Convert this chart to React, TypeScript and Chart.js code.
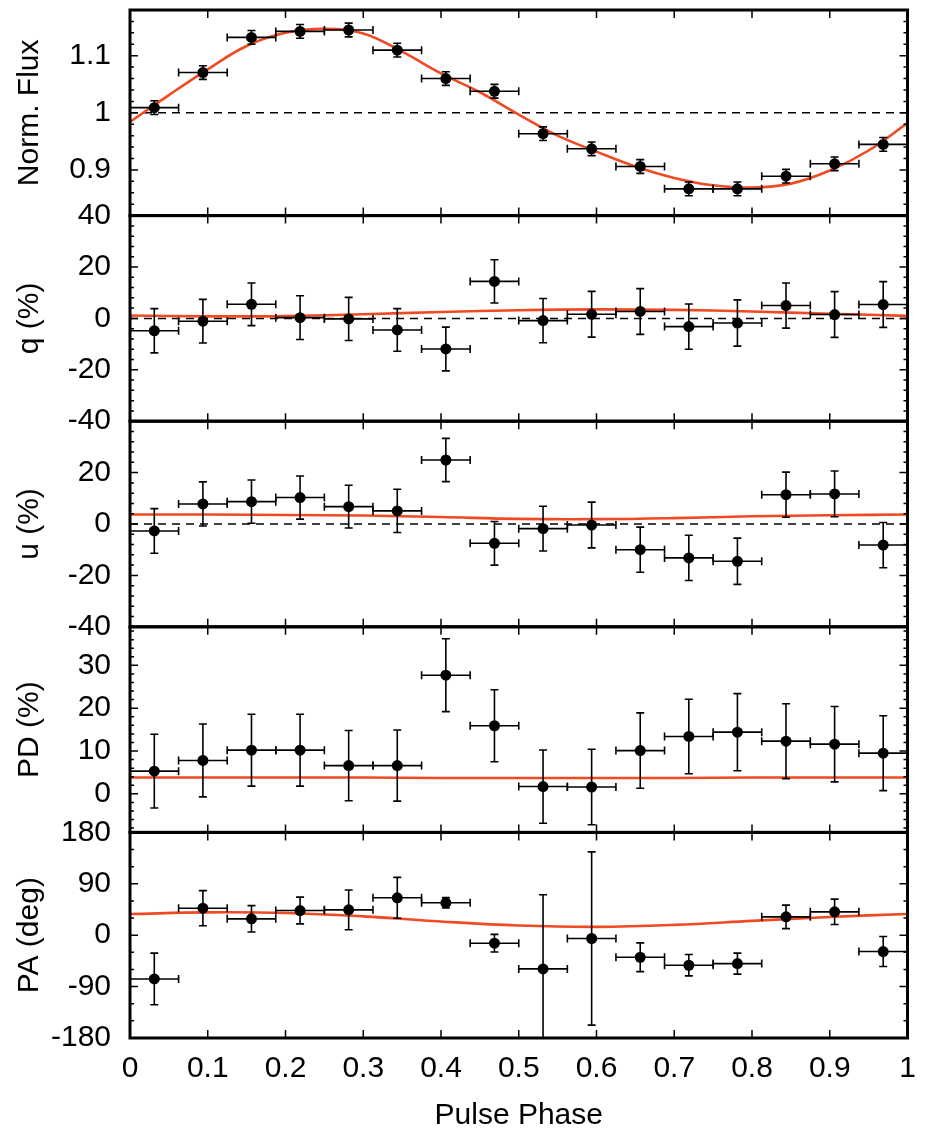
import React, { useEffect, useRef } from 'react';
import { Chart, registerables } from 'chart.js';

Chart.register(...registerables);

// ---------------- data ----------------
const phase = [0.03125, 0.09375, 0.15625, 0.21875, 0.28125, 0.34375, 0.40625, 0.46875,
  0.53125, 0.59375, 0.65625, 0.71875, 0.78125, 0.84375, 0.90625, 0.96875];
const phaseHalfWidth = 0.03125;

const flux = [1.009, 1.0705, 1.132, 1.1425, 1.145, 1.1097, 1.060, 1.0377,
  0.9634, 0.937, 0.906, 0.8668, 0.8668, 0.889, 0.9107, 0.9447];
const fluxErr = [0.012, 0.012, 0.012, 0.012, 0.012, 0.012, 0.012, 0.012,
  0.012, 0.012, 0.012, 0.012, 0.012, 0.012, 0.012, 0.012];

const qVal = [-4.8, -1.1, 5.5, 0.3, -0.2, -4.5, -11.9, 14.4, -0.85, 1.6, 2.7, -3.2, -1.8, 5.0, 1.5, 5.4];
const qErr = [8.6, 8.5, 8.3, 8.5, 8.4, 8.3, 8.5, 8.4, 8.6, 8.9, 8.9, 8.8, 9.0, 8.8, 8.9, 8.9];

const uVal = [-2.7, 7.8, 8.7, 10.3, 6.75, 5.1, 24.9, -7.5, -1.8, -0.4, -10.0, -13.2, -14.5, 11.4, 11.7, -8.2];
const uErr = [8.7, 8.6, 8.4, 8.4, 8.3, 8.4, 8.4, 8.5, 8.7, 8.9, 8.8, 8.8, 9.0, 8.8, 8.9, 8.8];

const pdVal = [5.3, 7.8, 10.2, 10.2, 6.6, 6.6, 27.7, 15.9, 1.7, 1.6, 10.1, 13.4, 14.4, 12.3, 11.6, 9.5];
const pdErr = [8.6, 8.5, 8.4, 8.4, 8.2, 8.3, 8.5, 8.4, 8.55, 8.8, 8.8, 8.7, 9.0, 8.75, 8.8, 8.75];

const paVal = [-76.6, 47.3, 28.6, 43.2, 44.4, 65.5, 56.7, -14.0, -59.0, -5.8, -38.6, -52.6, -49.7, 32.1, 40.9, -28.6];
const paErr = [45.3, 30.7, 23.1, 23.4, 34.8, 35.7, 9.1, 15.5, 129.7, 151.7, 25.1, 18.7, 18.4, 20.5, 22.2, 26.3];

// model curves
const fitPhaseFine = [0, 0.05, 0.1, 0.15, 0.2, 0.25, 0.3, 0.35, 0.4, 0.45, 0.5,
  0.55, 0.6, 0.65, 0.7, 0.75, 0.8, 0.85, 0.9, 0.95, 1];
const fluxFit = [0.984, 1.031, 1.076, 1.117, 1.140, 1.147, 1.139, 1.107, 1.069, 1.036, 0.997,
  0.960, 0.932, 0.906, 0.886, 0.873, 0.869, 0.876, 0.899, 0.934, 0.982];
const fitPhase = [0, 0.1, 0.2, 0.3, 0.4, 0.5, 0.6, 0.7, 0.8, 0.9, 1];
const qFit = [1.1, 0.8, 0.9, 1.6, 2.5, 3.2, 3.5, 3.3, 2.7, 1.8, 1.0];
const uFit = [3.7, 3.7, 3.5, 3.3, 2.7, 2.0, 1.9, 2.3, 3.0, 3.4, 3.7];
const pdFit = [3.8, 3.8, 3.8, 3.8, 3.7, 3.7, 3.7, 3.7, 3.8, 3.8, 3.8];
const paFit = [37, 40, 39, 33, 24, 17, 14.6, 18, 25, 32, 37];

// ticks
const xTicks = [0, 0.1, 0.2, 0.3, 0.4, 0.5, 0.6, 0.7, 0.8, 0.9, 1];
const xTickLabels = ['0', '0.1', '0.2', '0.3', '0.4', '0.5', '0.6', '0.7', '0.8', '0.9', '1'];
const fluxTicks = [0.9, 1, 1.1];
const fluxTickLabels = ['0.9', '1', '1.1'];
const qTicks = [-40, -20, 0, 20, 40];
const qTickLabels = ['-40', '-20', '0', '20', '40'];
const uTicks = [-40, -20, 0, 20];
const uTickLabels = ['-40', '-20', '0', '20'];
const pdTicks = [0, 10, 20, 30];
const pdTickLabels = ['0', '10', '20', '30'];
const paTicks = [-180, -90, 0, 90, 180];
const paTickLabels = ['-180', '-90', '0', '90', '180'];

// ---------------- panels ----------------
const RED = '#f04a23';
const FONT = "'Liberation Sans', Arial, Helvetica, sans-serif";

type Panel = {
  id: string; title: string; min: number; max: number; minor: number; major: number;
  ticks: number[]; labels: string[]; values: number[]; errs: number[];
  fitX: number[]; fitY: number[]; ref: number | null; weight: number;
};

const panels: Panel[] = [
  { id: 'yFlux', title: 'Norm. Flux', min: 0.82, max: 1.18, minor: 0.02, major: 0.1, ticks: fluxTicks, labels: fluxTickLabels,
    values: flux, errs: fluxErr, fitX: fitPhaseFine, fitY: fluxFit, ref: 1, weight: 5 },
  { id: 'yQ', title: 'q (%)', min: -40, max: 40, minor: 4, major: 20, ticks: qTicks, labels: qTickLabels,
    values: qVal, errs: qErr, fitX: fitPhase, fitY: qFit, ref: 0, weight: 4 },
  { id: 'yU', title: 'u (%)', min: -40, max: 40, minor: 4, major: 20, ticks: uTicks, labels: uTickLabels,
    values: uVal, errs: uErr, fitX: fitPhase, fitY: uFit, ref: 0, weight: 3 },
  { id: 'yPD', title: 'PD (%)', min: -9, max: 39, minor: 2, major: 10, ticks: pdTicks, labels: pdTickLabels,
    values: pdVal, errs: pdErr, fitX: fitPhase, fitY: pdFit, ref: null, weight: 2 },
  { id: 'yPA', title: 'PA (deg)', min: -180, max: 180, minor: 30, major: 90, ticks: paTicks, labels: paTickLabels,
    values: paVal, errs: paErr, fitX: fitPhase, fitY: paFit, ref: null, weight: 1 },
];

const framePlugin = {
  id: 'frame',
  afterDatasetsDraw(chart: any) {
    const ctx = chart.ctx as CanvasRenderingContext2D;
    const xs = chart.scales.x;
    const { left, right } = chart.chartArea;
    for (const p of panels) {
      const ys = chart.scales[p.id];
      ctx.save();
      ctx.beginPath();
      ctx.rect(left, ys.top, right - left, ys.bottom - ys.top);
      ctx.clip();
      ctx.strokeStyle = '#000';
      ctx.lineWidth = 1.6;
      const cap = 4;
      for (let i = 0; i < phase.length; i++) {
        const cx = xs.getPixelForValue(phase[i]);
        const cy = ys.getPixelForValue(p.values[i]);
        const x0 = xs.getPixelForValue(phase[i] - phaseHalfWidth);
        const x1 = xs.getPixelForValue(phase[i] + phaseHalfWidth);
        const y0 = ys.getPixelForValue(p.values[i] - p.errs[i]);
        const y1 = ys.getPixelForValue(p.values[i] + p.errs[i]);
        ctx.beginPath();
        ctx.moveTo(x0, cy); ctx.lineTo(x1, cy);
        ctx.moveTo(x0, cy - cap); ctx.lineTo(x0, cy + cap);
        ctx.moveTo(x1, cy - cap); ctx.lineTo(x1, cy + cap);
        ctx.moveTo(cx, y0); ctx.lineTo(cx, y1);
        ctx.moveTo(cx - cap, y0); ctx.lineTo(cx + cap, y0);
        ctx.moveTo(cx - cap, y1); ctx.lineTo(cx + cap, y1);
        ctx.stroke();
      }
      ctx.restore();
    }
  },
  afterDraw(chart: any) {
    const ctx = chart.ctx as CanvasRenderingContext2D;
    const xs = chart.scales.x;
    const { left, right } = chart.chartArea;
    ctx.save();
    ctx.strokeStyle = '#000';
    for (const p of panels) {
      const ys = chart.scales[p.id];
      const top = ys.top, bottom = ys.bottom;
      ctx.lineWidth = 1.5;
      ctx.beginPath();
      for (const v of xTicks) {
        const x = xs.getPixelForValue(v);
        ctx.moveTo(x, top); ctx.lineTo(x, top + 8);
        ctx.moveTo(x, bottom); ctx.lineTo(x, bottom - 8);
      }
      const start = Math.ceil((p.min - 1e-9) / p.minor);
      const end = Math.floor((p.max + 1e-9) / p.minor);
      for (let k = start; k <= end; k++) {
        const v = k * p.minor;
        const y = ys.getPixelForValue(v);
        const r = v / p.major;
        const isMajor = Math.abs(r - Math.round(r)) < 1e-6;
        const len = isMajor ? 8 : 4;
        ctx.moveTo(left, y); ctx.lineTo(left + len, y);
        ctx.moveTo(right, y); ctx.lineTo(right - len, y);
      }
      ctx.stroke();
      ctx.lineWidth = 3;
      ctx.strokeRect(left, top, right - left, bottom - top);
    }
    ctx.restore();
  },
};

export default function App() {
  const ref = useRef<HTMLCanvasElement | null>(null);
  useEffect(() => {
    document.body.style.margin = '0';
    const canvas = ref.current;
    if (!canvas) return;
    Chart.defaults.font.family = FONT;
    Chart.defaults.font.size = 30;
    Chart.defaults.color = '#000';

    const datasets: any[] = [];
    for (const p of panels) {
      datasets.push({
        type: 'scatter',
        data: phase.map((x, i) => ({ x, y: p.values[i] })),
        yAxisID: p.id,
        backgroundColor: '#000',
        borderColor: '#000',
        pointRadius: 5.5,
        pointHoverRadius: 5.5,
        pointBorderWidth: 0,
        showLine: false,
        order: 0,
      });
      datasets.push({
        type: 'line',
        data: p.fitX.map((x, i) => ({ x, y: p.fitY[i] })),
        yAxisID: p.id,
        borderColor: RED,
        borderWidth: 2.6,
        pointRadius: 0,
        tension: 0.4,
        fill: false,
        order: 1,
      });
      if (p.ref !== null) {
        datasets.push({
          type: 'line',
          data: [{ x: 0, y: p.ref }, { x: 1, y: p.ref }],
          yAxisID: p.id,
          borderColor: '#000',
          borderWidth: 1.5,
          borderDash: [8, 6],
          pointRadius: 0,
          fill: false,
          order: 2,
        });
      }
    }

    const scales: any = {
      x: {
        type: 'linear',
        position: 'bottom',
        min: 0,
        max: 1,
        grid: { display: false, drawTicks: false, tickLength: 0 },
        border: { display: false },
        afterBuildTicks: (s: any) => { s.ticks = xTicks.map((v) => ({ value: v })); },
        ticks: {
          autoSkip: false, maxRotation: 0, padding: 13, color: '#000',
          font: { size: 30, family: FONT },
          callback: (_v: any, i: number) => xTickLabels[i],
        },
        title: {
          display: true, text: 'Pulse Phase', color: '#000',
          font: { size: 30, family: FONT }, padding: { top: 0, bottom: 6 },
        },
        afterFit: (s: any) => {
          s.height = 102;
          s.paddingLeft = 0; s.paddingRight = 0; s.paddingTop = 0; s.paddingBottom = 0;
        },
      },
    };
    for (const p of panels) {
      scales[p.id] = {
        type: 'linear',
        position: 'left',
        stack: 'panels',
        stackWeight: 1,
        weight: p.weight,
        min: p.min,
        max: p.max,
        grid: { display: false, drawTicks: false, tickLength: 0 },
        border: { display: false },
        afterBuildTicks: (s: any) => { s.ticks = p.ticks.map((v) => ({ value: v })); },
        ticks: {
          autoSkip: false, padding: 19, color: '#000',
          font: { size: 30, family: FONT },
          callback: (_v: any, i: number) => p.labels[i],
        },
        title: {
          display: true, text: p.title, color: '#000',
          font: { size: 30, family: FONT }, padding: { top: 12, bottom: 0 },
        },
        afterFit: (s: any) => {
          s.width = 130;
          s.paddingLeft = 0; s.paddingRight = 0; s.paddingTop = 0; s.paddingBottom = 0;
        },
      };
    }

    const chart = new Chart(canvas, {
      type: 'scatter',
      data: { datasets },
      options: {
        responsive: false,
        animation: false,
        devicePixelRatio: 1,
        layout: { padding: { left: 0, right: 18.5, top: 10, bottom: 0 } },
        plugins: { legend: { display: false }, tooltip: { enabled: false }, title: { display: false } },
        events: [],
        scales,
      },
      plugins: [framePlugin],
    } as any);
    return () => chart.destroy();
  }, []);

  return (
    <div style={{ width: 926, height: 1140, background: '#fff' }}>
      <canvas ref={ref} width={926} height={1140} style={{ display: 'block' }} />
    </div>
  );
}
